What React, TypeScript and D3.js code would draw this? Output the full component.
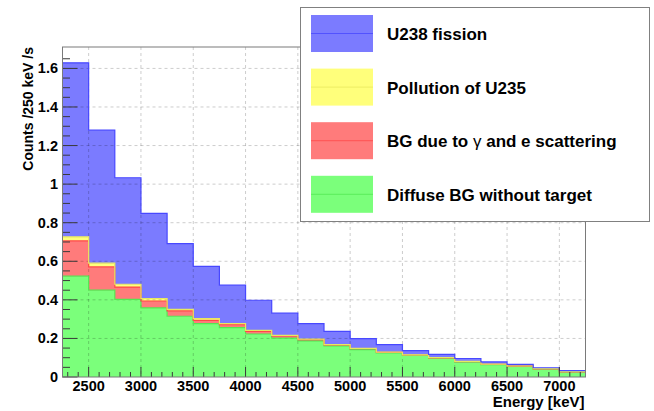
import { useEffect, useRef } from "react";
import * as d3 from "d3";

const WIDTH = 654;
const HEIGHT = 411;
const FRAME = { left: 62.5, right: 585.5, top: 47, bottom: 377 };
const FONT = "'Liberation Sans', Arial, Helvetica, sans-serif";

// lower bin edges in keV, 250 keV wide
const binEdges = [
  2250, 2500, 2750, 3000, 3250, 3500, 3750, 4000, 4250, 4500,
  4750, 5000, 5250, 5500, 5750, 6000, 6250, 6500, 6750, 7000,
];
const BIN_WIDTH = 250;
const X_DOMAIN: [number, number] = [2250, 7250];
const Y_DOMAIN: [number, number] = [0, 1.711];

const xTicks = [2500, 3000, 3500, 4000, 4500, 5000, 5500, 6000, 6500, 7000];
const yTicks = [0, 0.2, 0.4, 0.6, 0.8, 1, 1.2, 1.4, 1.6];

// counts per bin, bottom of the stack first
const diffuseBG = [
  0.523, 0.45, 0.402, 0.358, 0.315, 0.277, 0.256, 0.223, 0.202, 0.187,
  0.161, 0.142, 0.125, 0.112, 0.097, 0.078, 0.064, 0.055, 0.041, 0.026,
];
const scatterBG = [
  0.183, 0.121, 0.064, 0.036, 0.028, 0.017, 0.016, 0.014, 0.011, 0.007,
  0.005, 0.005, 0.003, 0.002, 0.002, 0.002, 0.002, 0.001, 0.001, 0.001,
];
const pollutionU235 = [
  0.021, 0.019, 0.015, 0.013, 0.008, 0.009, 0.005, 0.005, 0.003, 0.002,
  0.002, 0.001, 0.001, 0.001, 0.001, 0.001, 0.001, 0.001, 0.001, 0.001,
];
const fissionU238 = [
  0.902, 0.69, 0.552, 0.441, 0.341, 0.271, 0.199, 0.156, 0.115, 0.081,
  0.069, 0.051, 0.039, 0.022, 0.017, 0.015, 0.011, 0.008, 0.005, 0.005,
];

type Key = "diffuse" | "scatter" | "pollution" | "u238";
const stackKeys: Key[] = ["diffuse", "scatter", "pollution", "u238"];

const STYLE: Record<Key, { fill: string; line: string; label: string }> = {
  u238: { fill: "#7b7bff", line: "#4848ff", label: "U238 fission" },
  pollution: { fill: "#ffff7b", line: "#e8e860", label: "Pollution of U235" },
  scatter: { fill: "#ff7b7b", line: "#ff4848", label: "BG due to γ and e scattering" },
  diffuse: { fill: "#7bff7b", line: "#52e852", label: "Diffuse BG without target" },
};
const legendOrder: Key[] = ["u238", "pollution", "scatter", "diffuse"];

export default function App() {
  const svgRef = useRef<SVGSVGElement | null>(null);

  useEffect(() => {
    const svgEl = svgRef.current;
    if (!svgEl) return;
    const svg = d3.select(svgEl);
    svg.selectAll("*").remove();

    const x = d3.scaleLinear().domain(X_DOMAIN).range([FRAME.left, FRAME.right]);
    const y = d3.scaleLinear().domain(Y_DOMAIN).range([FRAME.bottom, FRAME.top]);

    const rows = binEdges.map((edge, i) => ({
      edge,
      diffuse: diffuseBG[i],
      scatter: scatterBG[i],
      pollution: pollutionU235[i],
      u238: fissionU238[i],
    }));
    const stacked = d3.stack<(typeof rows)[number], Key>().keys(stackKeys)(rows);

    svg.append("rect").attr("width", WIDTH).attr("height", HEIGHT).attr("fill", "#fff");

    // histogram fills
    const gFill = svg.append("g");
    const gLine = svg.append("g");
    stacked.forEach((layer) => {
      const key = layer.key as Key;
      const pts = layer.map((d, i) => ({ x: binEdges[i], y0: d[0], y1: d[1] }));
      const last = pts[pts.length - 1];
      pts.push({ x: last.x + BIN_WIDTH, y0: last.y0, y1: last.y1 });

      const area = d3
        .area<{ x: number; y0: number; y1: number }>()
        .curve(d3.curveStepAfter)
        .x((d) => x(d.x))
        .y0((d) => y(d.y0))
        .y1((d) => y(d.y1));
      gFill.append("path").attr("d", area(pts)).attr("fill", STYLE[key].fill);

      const line = d3
        .line<{ x: number; y0: number; y1: number }>()
        .curve(d3.curveStepAfter)
        .x((d) => x(d.x))
        .y((d) => y(d.y1));
      gLine
        .append("path")
        .attr("d", line(pts))
        .attr("fill", "none")
        .attr("stroke", STYLE[key].line)
        .attr("stroke-width", 1.2);
    });

    // grid (drawn over the fills, ROOT style)
    const gGrid = svg.append("g").attr("stroke", "#000").attr("stroke-opacity", 0.2).attr("stroke-dasharray", "3,3");
    gGrid
      .selectAll("line.gx")
      .data(xTicks)
      .join("line")
      .attr("x1", (d) => x(d))
      .attr("x2", (d) => x(d))
      .attr("y1", FRAME.top)
      .attr("y2", FRAME.bottom);
    gGrid
      .selectAll("line.gy")
      .data(yTicks.filter((d) => d > 0))
      .join("line")
      .attr("x1", FRAME.left)
      .attr("x2", FRAME.right)
      .attr("y1", (d) => y(d))
      .attr("y2", (d) => y(d));

    svg.node()!.appendChild(gLine.node()!);

    // ticks inside the frame
    const gTicks = svg.append("g").attr("stroke", "#3a3a3a").attr("stroke-width", 1);
    const xMinor = d3.range(2300, 7250, 100);
    gTicks
      .selectAll("line.xt")
      .data(xMinor)
      .join("line")
      .attr("x1", (d) => x(d))
      .attr("x2", (d) => x(d))
      .attr("y1", FRAME.bottom)
      .attr("y2", (d) => FRAME.bottom - (d % 500 === 0 ? 10 : 5));
    const yMinor = d3.range(0, 34).map((i) => i * 0.05);
    gTicks
      .selectAll("line.yt")
      .data(yMinor)
      .join("line")
      .attr("x1", FRAME.left)
      .attr("x2", (d, i) => FRAME.left + (i % 4 === 0 ? 15 : 7.5))
      .attr("y1", (d) => y(d))
      .attr("y2", (d) => y(d));

    // frame
    svg
      .append("rect")
      .attr("x", FRAME.left)
      .attr("y", FRAME.top)
      .attr("width", FRAME.right - FRAME.left)
      .attr("height", FRAME.bottom - FRAME.top)
      .attr("fill", "none")
      .attr("stroke", "#7a7a7a");

    // tick labels
    svg
      .append("g")
      .selectAll("text")
      .data(xTicks)
      .join("text")
      .attr("x", (d) => x(d))
      .attr("y", 391)
      .attr("text-anchor", "middle")
      .attr("font-family", FONT)
      .attr("font-weight", "bold")
      .attr("font-size", "14.5px")
      .text((d) => String(d));
    svg
      .append("g")
      .selectAll("text")
      .data(yTicks)
      .join("text")
      .attr("x", 58)
      .attr("y", (d) => y(d) + 5)
      .attr("text-anchor", "end")
      .attr("font-family", FONT)
      .attr("font-weight", "bold")
      .attr("font-size", "14.5px")
      .text((d) => String(+d.toFixed(1)));

    // axis titles
    svg
      .append("text")
      .attr("transform", `translate(33, ${FRAME.top}) rotate(-90)`)
      .attr("text-anchor", "end")
      .attr("font-family", FONT)
      .attr("font-weight", "bold")
      .attr("font-size", "14px")
      .text("Counts /250 keV /s");
    svg
      .append("text")
      .attr("x", FRAME.right - 1)
      .attr("y", 407)
      .attr("text-anchor", "end")
      .attr("font-family", FONT)
      .attr("font-weight", "bold")
      .attr("font-size", "15px")
      .text("Energy [keV]");

    // legend
    const gLegend = svg.append("g");
    gLegend
      .append("rect")
      .attr("x", 300.5)
      .attr("y", 7.5)
      .attr("width", 349)
      .attr("height", 214)
      .attr("fill", "#fff")
      .attr("stroke", "#808080");
    legendOrder.forEach((key, i) => {
      const cy = 33.5 + i * 53.6;
      gLegend
        .append("rect")
        .attr("x", 311)
        .attr("y", cy - 18.5)
        .attr("width", 62)
        .attr("height", 37)
        .attr("fill", STYLE[key].fill);
      gLegend
        .append("line")
        .attr("x1", 311)
        .attr("x2", 373)
        .attr("y1", cy)
        .attr("y2", cy)
        .attr("stroke", STYLE[key].line)
        .attr("stroke-width", 0.8);
      const t = gLegend
        .append("text")
        .attr("x", 387)
        .attr("y", cy + 6.5)
        .attr("font-family", FONT)
        .attr("font-weight", "bold")
        .attr("font-size", "17px");
      const parts = STYLE[key].label.split("γ");
      t.append("tspan").text(parts[0]);
      if (parts.length > 1) {
        t.append("tspan").attr("font-weight", "normal").text("γ");
        t.append("tspan").text(parts[1]);
      }
    });
  }, []);

  return (
    <svg
      ref={svgRef}
      width={WIDTH}
      height={HEIGHT}
      viewBox={`0 0 ${WIDTH} ${HEIGHT}`}
      style={{ position: "absolute", left: 0, top: 0, display: "block" }}
      role="img"
      aria-label="Stacked energy histogram"
    />
  );
}
